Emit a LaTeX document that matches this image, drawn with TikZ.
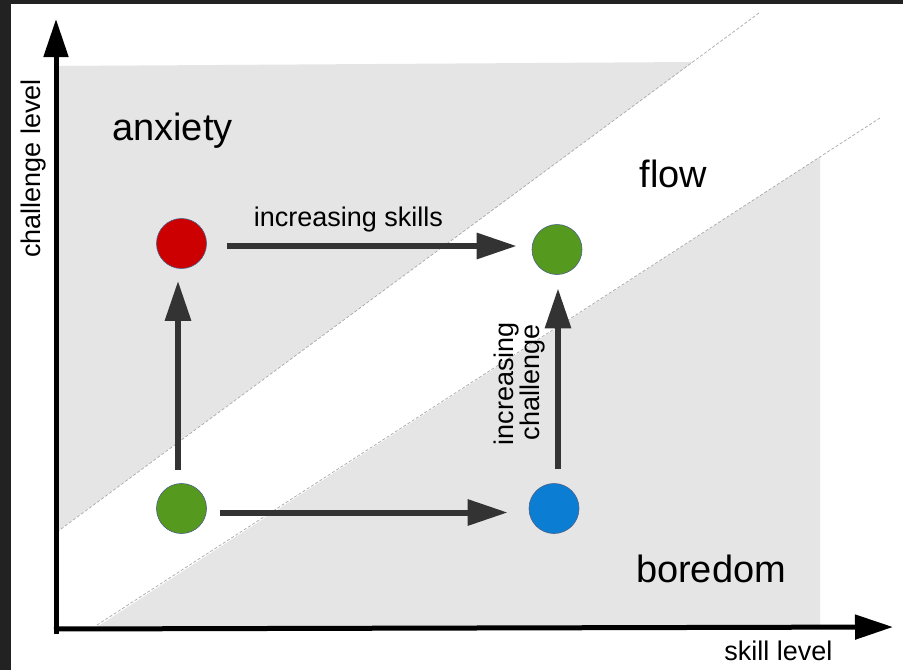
\documentclass[tikz,border=0pt]{standalone}
\usepackage{fontspec}
\setmainfont{Liberation Sans}
\usetikzlibrary{arrows.meta}
\definecolor{frame}{HTML}{222222}
\definecolor{zone}{HTML}{E5E5E5}
\definecolor{dashc}{HTML}{A8A8A8}
\definecolor{arrc}{HTML}{333333}
\definecolor{redc}{HTML}{CC0000}
\definecolor{greenc}{HTML}{56991F}
\definecolor{bluec}{HTML}{0B7ED4}
\definecolor{rimc}{HTML}{4A5F85}
\tikzset{
  dot/.style={circle, minimum size=50pt, inner sep=0pt, draw=rimc, line width=0.6pt},
  arr/.style={draw=arrc, line width=6pt, -{Triangle[length=40pt,width=25pt]}},
  axis/.style={draw=black, line width=5pt, -{Triangle[length=38pt,width=24pt]}},
  bound/.style={draw=dashc, line width=0.7pt, dash pattern=on 3pt off 2pt},
  big/.style={font=\fontsize{38}{44}\selectfont, inner sep=0pt},
  small/.style={font=\fontsize{27}{31}\selectfont, inner sep=0pt},
}
\begin{document}
\begin{tikzpicture}[x=1pt,y=-1pt]
\useasboundingbox (0,0) rectangle (903,670);
\fill[white] (0,0) rectangle (903,670);
% dark frame
\fill[frame] (0,0) rectangle (903,4);
\fill[frame] (0,0) rectangle (11,670);
% zones
\fill[zone] (59,66) -- (693,62) -- (59,530) -- cycle;
\fill[zone] (97,627) -- (820,157) -- (820,627) -- cycle;
\coordinate (u1) at (57,532);
\coordinate (u2) at (759,13);
\coordinate (l1) at (97,625);
\coordinate (l2) at (880,118);
\draw[bound] (u1) -- (u2);
\draw[bound] (l1) -- (l2);
% axes
\coordinate (o) at (56,634);
\coordinate (ytop) at (56,19);
\coordinate (xo) at (54,629);
\coordinate (xend) at (893,627);
\draw[axis] (o) -- (ytop);
\draw[axis] (xo) -- (xend);
% dots
\node[dot, fill=redc] (red) at (181.5,243.5) {};
\node[dot, fill=greenc] (gtr) at (557,249.5) {};
\node[dot, fill=greenc] (gbl) at (181.5,508.5) {};
\node[dot, fill=bluec] (blue) at (554,508.5) {};
% arrows
\draw[arr] ([xshift=20pt,yshift=-2.5pt]red.east) -- ([xshift=-15pt,yshift=3.5pt]gtr.west);
\draw[arr] ([xshift=13.5pt,yshift=-4pt]gbl.east) -- ([xshift=-21pt,yshift=-4pt]blue.west);
\draw[arr] ([xshift=-3.5pt,yshift=13pt]gbl.north) -- ([xshift=-3.5pt,yshift=-12pt]red.south);
\draw[arr] ([xshift=4pt,yshift=14pt]blue.north) -- ([xshift=1pt,yshift=-13.5pt]gtr.south);
% labels
\node[big, anchor=base] (anx) at (172.5,140) {anxiety};
\node[big, anchor=base] (flw) at (673.5,187) {flow};
\node[big, anchor=base] (bor) at (711,582) {boredom};
\node[small, anchor=base] (skl) at (778.5,660) {skill level};
\node[small, anchor=base, rotate=90] (chl) at (40,168.5) {challenge level};
\node[small, anchor=base] (incs) at (348.5,226) {increasing skills};
\node[small, anchor=base, rotate=90] (inc1) at (513,383.5) {increasing};
\node[small, anchor=base, rotate=90] (inc2) at (539,382.5) {challenge};
\end{tikzpicture}
\end{document}
